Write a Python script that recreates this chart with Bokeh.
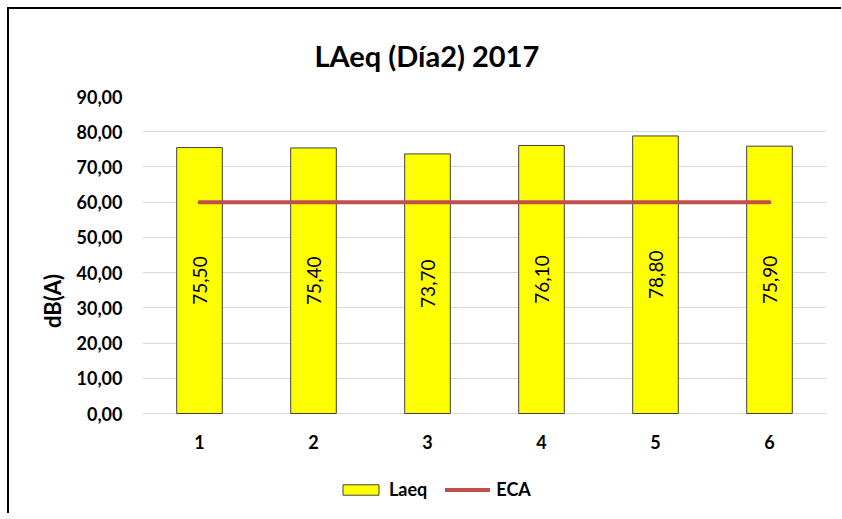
import math
from bokeh.plotting import figure
from bokeh.models import Legend, LegendItem, FixedTicker, ColumnDataSource, FactorRange, Range1d
from bokeh.core.properties import value
from bokeh.embed import file_html
from bokeh.resources import INLINE

categories = ["1", "2", "3", "4", "5", "6"]
laeq = [75.5, 75.4, 73.7, 76.1, 78.8, 75.9]
eca = [60, 60, 60, 60, 60, 60]
y_ticks = [0, 10, 20, 30, 40, 50, 60, 70, 80, 90]
y_tick_labels = ["0,00", "10,00", "20,00", "30,00", "40,00", "50,00", "60,00", "70,00", "80,00", "90,00"]

bar_labels = [f"{v:.2f}".replace(".", ",") for v in laeq]

FONT = "Lato"
PLOT_H = 317            # pixels from 0 to 90 dB
FRAME_H = 409           # frame extends below 0 to hold category labels and legend
px_per_unit = PLOT_H / 90.0
y_min = -(FRAME_H - PLOT_H) / px_per_unit
cat_label_y = -28 / px_per_unit

src = ColumnDataSource(dict(x=categories, top=laeq, mid=[v / 2 for v in laeq], lab=bar_labels, eca=eca,
                            ly=[cat_label_y] * len(categories)))

p = figure(
    frame_width=684, frame_height=FRAME_H,
    x_range=FactorRange(*categories, range_padding=0),
    y_range=Range1d(y_min, 90),
    output_backend="svg", toolbar_location=None,
    min_border_left=133, min_border_right=15, min_border_top=87, min_border_bottom=8,
)
p.styles = {"border-left": "2px solid black", "border-top": "2px solid black",
            "margin-left": "7px", "margin-top": "7px"}
p.outline_line_color = None

p.title.text = "LAeq (Día2) 2017"
p.title.text_font = FONT
p.title.text_font_size = "29px"
p.title.text_font_style = "bold"
p.title.text_color = "#000000"
p.title.align = "left"
p.title.offset = 172
p.title.vertical_align = "bottom"
p.title.standoff = 48

bars = p.vbar(x="x", top="top", width=0.4, source=src, fill_color="#FFFF00", line_color="#404040", line_width=1)
line = p.line(x="x", y="eca", source=src, line_color="#C0504D", line_width=4, line_cap="round")
p.text(x="x", y="mid", text="lab", source=src, angle=math.pi / 2, text_align="center", text_baseline="middle",
       text_font=value(FONT), text_font_size="19px", text_color="#000000")
# category labels under the bars
p.text(x="x", y="ly", text="x", source=src, text_align="center", text_baseline="middle",
       text_font=value(FONT), text_font_size="18px", text_font_style="bold", text_color="#000000")

p.xaxis.visible = False
p.xgrid.grid_line_color = None
p.ygrid.grid_line_color = "#D9D9D9"
p.ygrid.grid_line_width = 1
p.yaxis.ticker = FixedTicker(ticks=y_ticks)
p.yaxis.major_label_overrides = {t: l for t, l in zip(y_ticks, y_tick_labels)}

ax = p.yaxis
ax.axis_line_color = None
ax.major_tick_line_color = None
ax.minor_tick_line_color = None
ax.major_tick_out = 0
ax.major_tick_in = 0
ax.major_label_text_font = FONT
ax.major_label_text_font_style = "bold"
ax.major_label_text_font_size = "18px"
ax.major_label_text_color = "#000000"
ax.major_label_standoff = 20
ax.axis_label = "dB(A)"
ax.axis_label_text_font = FONT
ax.axis_label_text_font_style = "bold"
ax.axis_label_text_font_size = "22px"
ax.axis_label_text_color = "#000000"
ax.axis_label_standoff = 8

legend = Legend(items=[LegendItem(label="Laeq", renderers=[bars]),
                       LegendItem(label="ECA", renderers=[line])],
                orientation="horizontal", location=(196, 5))
legend.border_line_color = None
legend.background_fill_alpha = 0
legend.padding = 0
legend.margin = 0
legend.spacing = 18
legend.glyph_width = 45
legend.glyph_height = 13
legend.label_standoff = 6
legend.label_text_font = FONT
legend.label_text_font_style = "bold"
legend.label_text_font_size = "18px"
legend.label_text_color = "#000000"
p.add_layout(legend, "center")

open("out.html", "w").write(file_html(p, INLINE))
